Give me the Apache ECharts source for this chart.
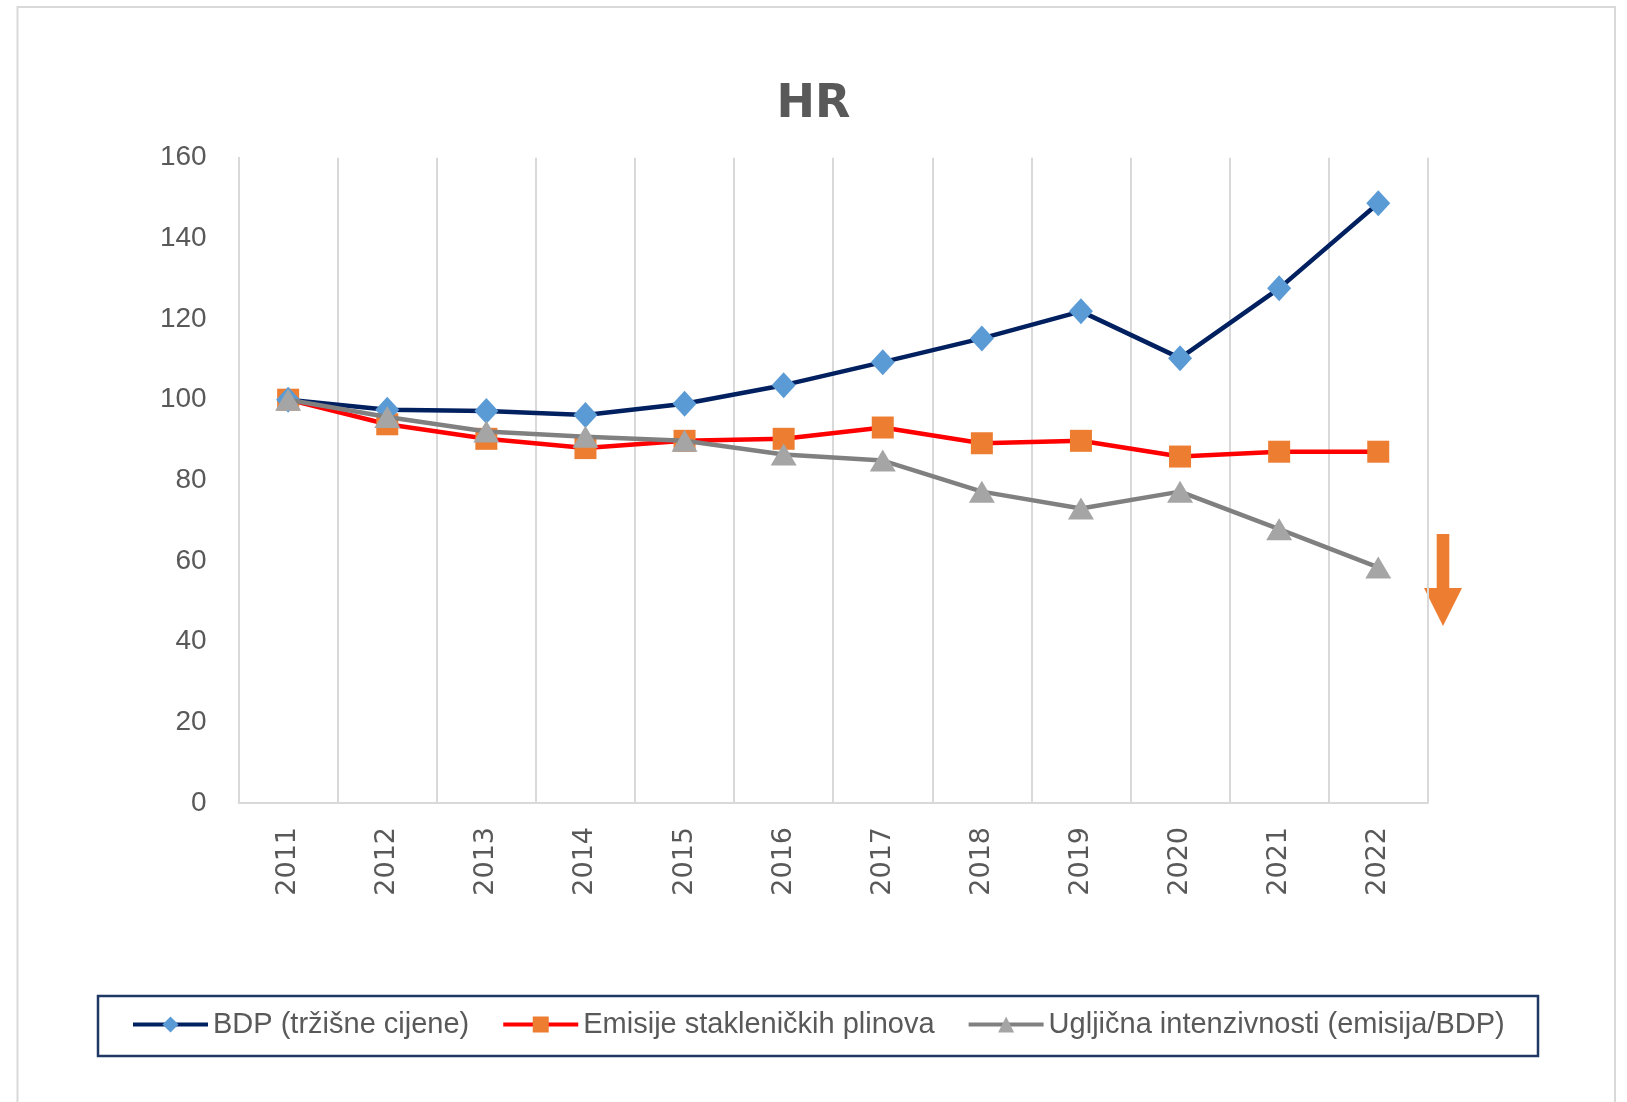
<!DOCTYPE html>
<html>
<head>
<meta charset="utf-8">
<script src="https://cdn.jsdelivr.net/npm/echarts@6/dist/echarts.min.js"></script>
<style>
html,body{margin:0;padding:0;background:#fff;}
#chart{width:1627px;height:1102px;}
</style>
</head>
<body>
<div id="chart"></div>
<script>
const titleText = 'HR';
const years = ['2011','2012','2013','2014','2015','2016','2017','2018','2019','2020','2021','2022'];
const seriesNames = ['BDP (tržišne cijene)', 'Emisije stakleničkih plinova', 'Ugljična intenzivnosti (emisija/BDP)'];
const bdp = [100, 97.5, 97.2, 96.2, 99.0, 103.6, 109.3, 115.2, 121.9, 110.3, 127.6, 148.7];
const emisije = [100, 93.9, 90.3, 88.0, 89.8, 90.3, 93.1, 89.2, 89.8, 85.9, 87.1, 87.1];
const intenzivnost = [100, 95.7, 92.1, 90.8, 89.8, 86.4, 84.9, 77.2, 73.0, 77.2, 67.9, 58.4];
const yTicks = {min: 0, max: 160, interval: 20};

const chart = echarts.init(document.getElementById('chart'), null, {renderer: 'canvas'});
const labelGray = '#595959';
const gridGray = '#D9D9D9';
const lineColors = ['#002060', '#FF0000', '#808080'];

chart.setOption({
  animation: false,
  backgroundColor: '#ffffff',
  title: {
    text: titleText,
    left: 'center',
    top: 77,
    textStyle: {fontFamily: 'DejaVu Sans', fontWeight: 'bold', fontSize: 46, color: labelGray}
  },
  grid: {left: 238.6, right: 199.2, top: 157.7, bottom: 299, containLabel: false},
  legend: {
    left: 131,
    top: 1010,
    width: 1480,
    padding: 0,
    itemGap: 32,
    itemWidth: 75,
    itemHeight: 20,
    textStyle: {fontFamily: 'Liberation Sans Narrow, Liberation Sans, sans-serif', fontSize: 29, color: labelGray},
    data: seriesNames.map((n, i) => ({name: n, lineStyle: {width: 4, color: lineColors[i]}}))
  },
  xAxis: {
    type: 'category',
    data: years,
    boundaryGap: true,
    axisLine: {show: true, lineStyle: {color: gridGray, width: 2}},
    axisTick: {show: false},
    splitLine: {show: true, lineStyle: {color: gridGray, width: 2}},
    axisLabel: {rotate: 90, margin: 24, fontFamily: 'DejaVu Sans', fontSize: 27, color: labelGray}
  },
  yAxis: {
    type: 'value',
    min: yTicks.min, max: yTicks.max, interval: yTicks.interval,
    axisLine: {show: true, lineStyle: {color: gridGray, width: 2}},
    axisTick: {show: false},
    splitLine: {show: false},
    axisLabel: {margin: 32, fontFamily: 'Liberation Sans, Arial, sans-serif', fontSize: 28, color: labelGray}
  },
  series: [
    {
      name: seriesNames[0], type: 'line', data: bdp,
      symbol: 'diamond', symbolSize: [24, 26],
      lineStyle: {color: lineColors[0], width: 4.5},
      itemStyle: {color: '#5B9BD5'},
      z: 4
    },
    {
      name: seriesNames[1], type: 'line', data: emisije,
      symbol: 'rect', symbolSize: 22,
      lineStyle: {color: lineColors[1], width: 4.5},
      itemStyle: {color: '#ED7D31'},
      z: 3
    },
    {
      name: seriesNames[2], type: 'line', data: intenzivnost,
      symbol: 'triangle', symbolSize: [26, 22],
      lineStyle: {color: lineColors[2], width: 4.5},
      itemStyle: {color: '#A5A5A5'},
      z: 5
    }
  ],
  graphic: [
    {type: 'rect', shape: {x: 17.5, y: 7, width: 1597.5, height: 1110}, style: {fill: 'none', stroke: '#D9D9D9', lineWidth: 2}, z: -10, silent: true},
    {type: 'rect', shape: {x: 98, y: 996, width: 1440, height: 60}, style: {fill: 'none', stroke: '#1F3864', lineWidth: 2.5}, z: -5, silent: true},
    {type: 'polygon', shape: {points: [[1436.7,534],[1449.3,534],[1449.3,588],[1462,588],[1443,626],[1424,588],[1436.7,588]]}, style: {fill: '#ED7D31'}, silent: true}
  ]
});
</script>
</body>
</html>
